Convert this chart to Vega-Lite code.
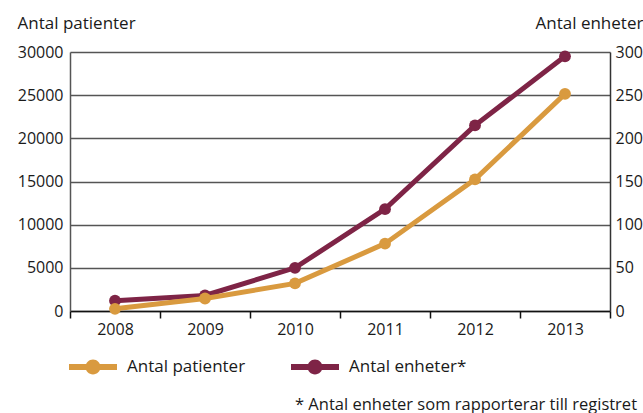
{
  "$schema": "https://vega.github.io/schema/vega-lite/v6.json",
  "width": 540,
  "height": 259,
  "autosize": {"type": "none"},
  "padding": {"left": 70, "top": 52, "right": 33, "bottom": 102},
  "config": {
    "font": "Open Sans",
    "view": {"stroke": null},
    "axis": {"labelFontSize": 16, "labelColor": "#1a1a1a", "titleColor": "#1a1a1a", "titleFontSize": 17, "titleFontWeight": "normal"},
    "legend": {"labelFontSize": 17, "labelColor": "#1a1a1a"}
  },
  "title": {
    "text": "* Antal enheter som rapporterar till registret",
    "orient": "bottom",
    "anchor": "start",
    "frame": "group",
    "dx": 225,
    "offset": 22,
    "fontSize": 16.5,
    "fontWeight": "normal",
    "color": "#1a1a1a"
  },
  "data": {
    "values": [
      {"year": "2008", "serie": "Antal patienter", "value": 250},
      {"year": "2009", "serie": "Antal patienter", "value": 1450},
      {"year": "2010", "serie": "Antal patienter", "value": 3200},
      {"year": "2011", "serie": "Antal patienter", "value": 7800},
      {"year": "2012", "serie": "Antal patienter", "value": 15250},
      {"year": "2013", "serie": "Antal patienter", "value": 25150},
      {"year": "2008", "serie": "Antal enheter*", "value": 12},
      {"year": "2009", "serie": "Antal enheter*", "value": 18},
      {"year": "2010", "serie": "Antal enheter*", "value": 50},
      {"year": "2011", "serie": "Antal enheter*", "value": 118},
      {"year": "2012", "serie": "Antal enheter*", "value": 215},
      {"year": "2013", "serie": "Antal enheter*", "value": 295}
    ]
  },
  "encoding": {
    "x": {
      "field": "year",
      "type": "ordinal",
      "scale": {"type": "band", "paddingInner": 0, "paddingOuter": 0},
      "axis": {
        "title": null,
        "labelAngle": 0,
        "tickBand": "extent",
        "domainColor": "#111",
        "domainWidth": 1.5,
        "tickColor": "#111",
        "tickWidth": 1.5,
        "tickSize": 7,
        "labelPadding": 3,
        "grid": false
      }
    },
    "color": {
      "field": "serie",
      "type": "nominal",
      "scale": {"domain": ["Antal patienter", "Antal enheter*"], "range": ["#D99A3F", "#7E2446"]},
      "legend": {
        "title": null,
        "orient": "none",
        "legendX": -1,
        "legendY": 291,
        "direction": "horizontal",
        "padding": 0,
        "symbolType": "M-1,-0.125L1,-0.125L1,0.125L-1,0.125Z M-0.31,0A0.31,0.31,0,1,1,0.31,0A0.31,0.31,0,1,1,-0.31,0Z",
        "symbolSize": 2304,
        "symbolStrokeWidth": 0,
        "labelOffset": 10,
        "columnPadding": 45,
        "encode": {"symbols": {"update": {"fill": {"scale": "color", "field": "value"}, "opacity": {"value": 1}}}}
      }
    }
  },
  "layer": [
    {
      "transform": [{"filter": "datum.serie === 'Antal enheter*'"}],
      "mark": {"type": "line", "strokeWidth": 5, "point": {"filled": true, "size": 140, "opacity": 1}},
      "encoding": {
        "y": {
          "field": "value",
          "type": "quantitative",
          "scale": {"domain": [0, 300], "nice": false},
          "axis": {
            "orient": "right",
            "values": [0, 50, 100, 150, 200, 250, 300],
            "grid": false,
            "ticks": false,
            "domainColor": "#333",
            "domainWidth": 1.5,
            "labelPadding": 5,
            "title": "Antal enheter",
            "titleAngle": 0,
            "titleAlign": "left",
            "titleBaseline": "alphabetic",
            "titleX": -75,
            "titleY": -24
          }
        }
      }
    },
    {
      "transform": [{"filter": "datum.serie === 'Antal patienter'"}],
      "mark": {"type": "line", "strokeWidth": 5, "point": {"filled": true, "size": 140, "opacity": 1}},
      "encoding": {
        "y": {
          "field": "value",
          "type": "quantitative",
          "scale": {"domain": [0, 30000], "nice": false},
          "axis": {
            "orient": "left",
            "values": [0, 5000, 10000, 15000, 20000, 25000, 30000],
            "format": "d",
            "grid": true,
            "gridColor": "#555",
            "gridWidth": 1.3,
            "ticks": false,
            "domainColor": "#555",
            "domainWidth": 1.5,
            "labelPadding": 7,
            "title": "Antal patienter",
            "titleAngle": 0,
            "titleAlign": "left",
            "titleBaseline": "alphabetic",
            "titleX": -53,
            "titleY": -24
          }
        }
      }
    }
  ],
  "resolve": {"scale": {"y": "independent"}}
}
